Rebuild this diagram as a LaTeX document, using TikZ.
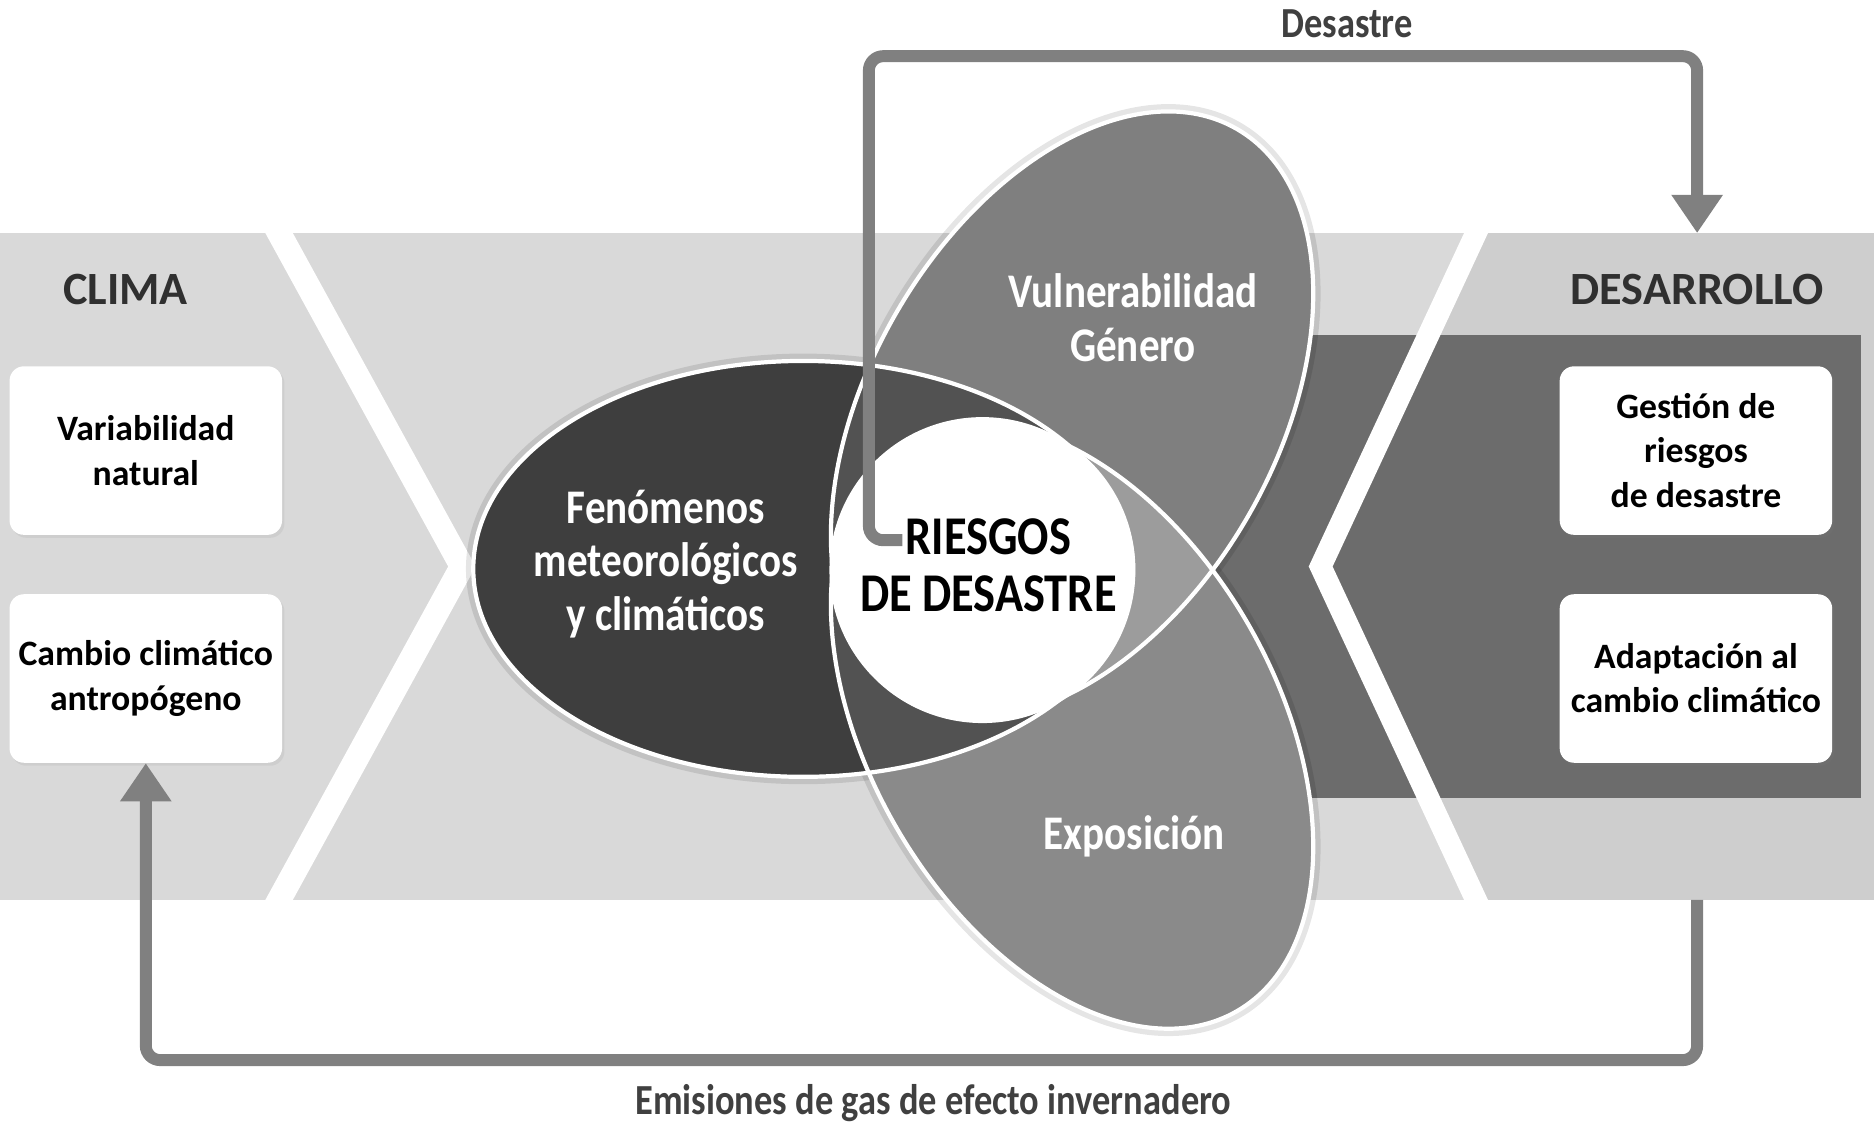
\documentclass[tikz,border=0pt]{standalone}
\usepackage{fontspec}
\setmainfont{Carlito}
\newfontfamily\narrowfont[FakeStretch=0.85]{Carlito}
\usetikzlibrary{arrows.meta,positioning,shadows}

\definecolor{bandgray}{RGB}{217,217,217}
\definecolor{bandright}{RGB}{206,206,206}
\definecolor{darkband}{RGB}{108,108,108}
\definecolor{fenfill}{RGB}{62,62,62}
\definecolor{mixfill}{RGB}{82,82,82}
\definecolor{vulfill}{RGB}{127,127,127}
\definecolor{expofill}{RGB}{138,138,138}
\definecolor{lensfill}{RGB}{156,156,156}
\definecolor{arrowgray}{RGB}{128,128,128}
\definecolor{titlegray}{RGB}{48,48,48}
\definecolor{captiongray}{RGB}{64,64,64}

\begin{document}
\begin{tikzpicture}[
  x=0.2mm, y=-0.2mm,
  box/.style={fill=white, rounded corners=2.4mm, align=center, minimum width=45.6mm, minimum height=28.2mm, inner sep=0pt,
    drop shadow={shadow xshift=0.4mm, shadow yshift=-0.5mm, opacity=0.12}, font=\fontsize{17}{21}\selectfont\bfseries},
  title/.style={text=titlegray, font=\fontsize{22}{26}\selectfont\bfseries},
  petal/.style={text=white, align=center, font=\narrowfont\fontsize{23}{25.5}\selectfont\bfseries},
  core/.style={align=center, font=\narrowfont\fontsize{26}{27.5}\selectfont\bfseries},
  caption/.style={text=captiongray, font=\narrowfont\fontsize{20.4}{24}\selectfont\bfseries},
  rim/.style={draw=white, line width=2pt},
  halo/.style={draw=black, draw opacity=0.1, line width=7pt},
  flow/.style={draw=arrowgray, line width=2mm, rounded corners=2.4mm, -{Triangle[length=6.4mm, width=8.2mm]}}
]
\useasboundingbox (0,0) rectangle (1568,940);

% band and chevrons
\fill[bandgray] (0,195) rectangle (1568,753);
\fill[bandright] (1245,195) -- (1568,195) -- (1568,753) -- (1245,753) -- (1115,474) -- cycle;
\fill[darkband] (900,280) rectangle (1557,668);
\fill[white] (222,195) -- (245,195) -- (398,474) -- (245,753) -- (222,753) -- (375,474) -- cycle;
\fill[white] (1225,195) -- (1245,195) -- (1115,474) -- (1245,753) -- (1225,753) -- (1095,474) -- cycle;

% side boxes
\node[title] (clima) at (105,242) {CLIMA};
\node[box] (variab) at (122,377) {Variabilidad\\natural};
\node[box, below=9.8mm of variab] (cambio) {Cambio climático\\antropógeno};
\node[title] (desarrollo) at (1420,242) {DESARROLLO};
\node[box] (gestion) at (1419,377) {Gestión de\\riesgos\\de desastre};
\node[box, below=9.8mm of gestion] (adapta) {Adaptación al\\cambio climático};

% petals
\draw[halo] (672,476) ellipse [x radius=276, y radius=174];
\draw[halo] (897,347) ellipse [x radius=276, y radius=170, rotate=60];
\draw[halo] (897,607) ellipse [x radius=276, y radius=170, rotate=-60];
\fill[vulfill] (897,347) ellipse [x radius=276, y radius=170, rotate=60];
\fill[expofill] (897,607) ellipse [x radius=276, y radius=170, rotate=-60];
\begin{scope}
  \clip (897,347) ellipse [x radius=276, y radius=170, rotate=60];
  \fill[lensfill] (897,607) ellipse [x radius=276, y radius=170, rotate=-60];
\end{scope}
\fill[fenfill] (672,476) ellipse [x radius=276, y radius=174];
\begin{scope}
  \clip (672,476) ellipse [x radius=276, y radius=174];
  \fill[mixfill] (897,347) ellipse [x radius=276, y radius=170, rotate=60];
  \fill[mixfill] (897,607) ellipse [x radius=276, y radius=170, rotate=-60];
\end{scope}
\draw[rim] (672,476) ellipse [x radius=276, y radius=174];
\draw[rim] (897,347) ellipse [x radius=276, y radius=170, rotate=60];
\draw[rim] (897,607) ellipse [x radius=276, y radius=170, rotate=-60];
\fill[white] (822,477) circle [radius=128];

\node[petal] (fenomenos) at (557,472) {Fenómenos\\meteorológicos\\y climáticos};
\node[petal] (vulnera) at (948,266) {Vulnerabilidad\\Género};
\node[petal] (exposic) at (949,700) {Exposición};
\node[core] (riesgos) at (827,473) {RIESGOS\\DE DESASTRE};

% feedback loops
\coordinate (dStart) at (755,452);
\coordinate (loopHigh) at (727,47);
\coordinate (desTop) at (1420,195);
\draw[flow] (dStart) -| (loopHigh) -| (desTop);
\node[caption] (desastre) at (1127,20) {Desastre};

\coordinate (desBot) at (1420,753);
\coordinate (loopLow) at (1420,887);
\draw[flow] (desBot) -- (loopLow) -| (cambio.south);
\node[caption] (emisiones) at (781,923) {Emisiones de gas de efecto invernadero};

\end{tikzpicture}
\end{document}
